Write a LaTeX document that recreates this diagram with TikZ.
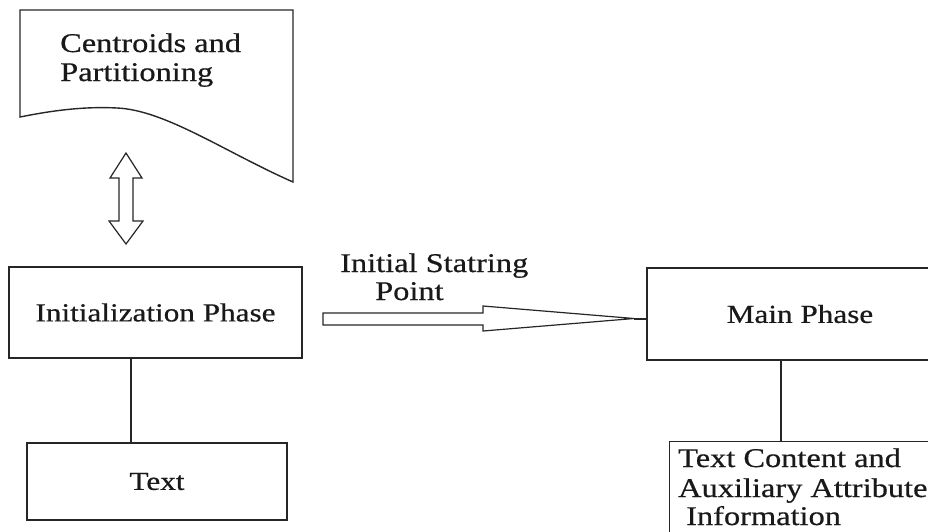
\documentclass[tikz,border=0pt]{standalone}
\usepackage{fontspec}
\setmainfont{Liberation Serif}[FakeStretch=1.2,FakeBold=0.6]
\begin{document}
\begin{tikzpicture}[x=1pt,y=-1pt,
  line/.style={draw=black!85, line width=1.4pt},
  boxnode/.style={line, rectangle, inner sep=0pt},
  lbl/.style={font=\fontsize{26}{29}\selectfont, text=black!90},
  lbl2/.style={font=\fontsize{27}{29.5}\selectfont, text=black!90, inner sep=0pt, anchor=base west}]
\useasboundingbox (0,0) rectangle (928,531);
% document shape
\draw[line, line join=miter] (20,10) -- (293,10) -- (293,182)
  .. controls (225,152) and (165,110) .. (117,108)
  .. controls (80,106) and (45,112) .. (20,117) -- cycle;
\node[lbl2] (doc1) at (60,52) {Centroids and};
\node[lbl2] (doc2) at (60,81) {Partitioning};
% double arrow
\draw[line, line width=1.2pt] (126,153) -- (142,178) -- (133,178) -- (133,221) -- (143,221)
  -- (126,244) -- (109,221) -- (119,221) -- (119,178) -- (110,178) -- cycle;
% boxes
\node[boxnode, minimum width=293, minimum height=91, lbl] (init) at (155.5,312.5) {Initialization Phase};
\node[boxnode, minimum width=260, minimum height=77, lbl] (txt) at (157,481.5) {Text};
\node[boxnode, minimum width=306, minimum height=92, lbl] (main) at (800,314) {Main Phase};
\node[boxnode, minimum width=300, minimum height=140, anchor=north west] (info) at (669,441) {};
\node[lbl2] (info1) at (678,467) {Text Content and};
\node[lbl2] (info2) at (678,497) {Auxiliary Attribute};
\node[lbl2] (info3) at (686,525) {Information};
% connectors
\coordinate (lx) at (131,0);
\coordinate (rx) at (781,0);
\draw[line] (init.south -| lx) -- (txt.north -| lx);
\draw[line] (main.south -| rx) -- (info.north -| rx);
% big arrow
\draw[line, line width=1.2pt, line join=miter] (323,313) -- (483,313) -- (483,306) -- (634,318.5)
  -- (483,331) -- (483,325) -- (323,325) -- cycle;
\coordinate (tip) at (634,319);
\draw[line, line width=1.2pt] (tip) -- (tip -| main.west);
\node[lbl2] (lab) at (340,272) {Initial Statring};
\node[lbl2] (lab2) at (375,300) {Point};
\end{tikzpicture}
\end{document}
